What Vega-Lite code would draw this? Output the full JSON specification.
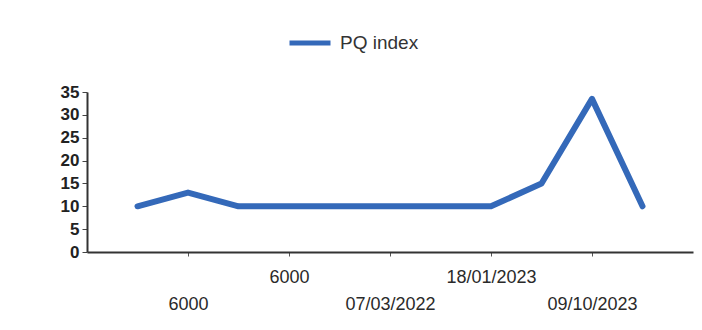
{
  "$schema": "https://vega.github.io/schema/vega-lite/v6.json",
  "width": 606,
  "height": 160,
  "autosize": {"type": "none"},
  "padding": {"left": 87, "top": 92, "right": 9, "bottom": 78},
  "background": "#ffffff",
  "data": {
    "values": [
      {"n": 1, "category": "#1", "series": "PQ index", "pq": 10},
      {"n": 2, "category": "6000#2", "series": "PQ index", "pq": 13},
      {"n": 3, "category": "#3", "series": "PQ index", "pq": 10},
      {"n": 4, "category": "6000#4", "series": "PQ index", "pq": 10},
      {"n": 5, "category": "#5", "series": "PQ index", "pq": 10},
      {"n": 6, "category": "07/03/2022#6", "series": "PQ index", "pq": 10},
      {"n": 7, "category": "#7", "series": "PQ index", "pq": 10},
      {"n": 8, "category": "18/01/2023#8", "series": "PQ index", "pq": 10},
      {"n": 9, "category": "#9", "series": "PQ index", "pq": 15},
      {"n": 10, "category": "09/10/2023#10", "series": "PQ index", "pq": 33.5},
      {"n": 11, "category": "#11", "series": "PQ index", "pq": 10}
    ]
  },
  "mark": {"type": "line", "strokeWidth": 6, "strokeCap": "round", "strokeJoin": "round"},
  "encoding": {
    "x": {
      "field": "category",
      "type": "ordinal",
      "sort": {"field": "n"},
      "scale": {"type": "point", "padding": 1},
      "axis": {
        "title": null,
        "labelAngle": 0,
        "labelExpr": "split(datum.value, '#')[0]",
        "labelFont": "Liberation Sans",
        "labelFontSize": 18,
        "labelColor": "#2a2a2a",
        "labelBaseline": "top",
        "labelOverlap": false,
        "labelPadding": {"condition": {"test": "toNumber(split(datum.value, '#')[1]) % 4 == 0", "value": 12}, "value": 39},
        "tickOpacity": {"condition": {"test": "split(datum.value, '#')[0] == ''", "value": 0}, "value": 1},
        "tickSize": 4,
        "tickColor": "#555555",
        "tickWidth": 1,
        "domainColor": "#333333",
        "domainWidth": 2,
        "grid": false
      }
    },
    "y": {
      "field": "pq",
      "type": "quantitative",
      "scale": {"domain": [0, 35], "nice": false},
      "axis": {
        "title": null,
        "values": [0, 5, 10, 15, 20, 25, 30, 35],
        "labelFont": "Liberation Sans",
        "labelFontSize": 17,
        "labelFontWeight": "bold",
        "labelColor": "#222222",
        "labelPadding": 3,
        "tickSize": 5,
        "tickColor": "#444444",
        "domainColor": "#333333",
        "domainWidth": 2,
        "grid": false
      }
    },
    "color": {
      "field": "series",
      "type": "nominal",
      "scale": {"range": ["#3469b9"]},
      "legend": {
        "title": null,
        "orient": "none",
        "legendX": 200,
        "legendY": -72,
        "symbolType": "stroke",
        "symbolSize": 1681,
        "symbolStrokeWidth": 5,
        "labelFont": "Liberation Sans",
        "labelFontSize": 19,
        "labelColor": "#333333",
        "labelOffset": 7
      }
    }
  },
  "config": {"view": {"stroke": null}}
}
